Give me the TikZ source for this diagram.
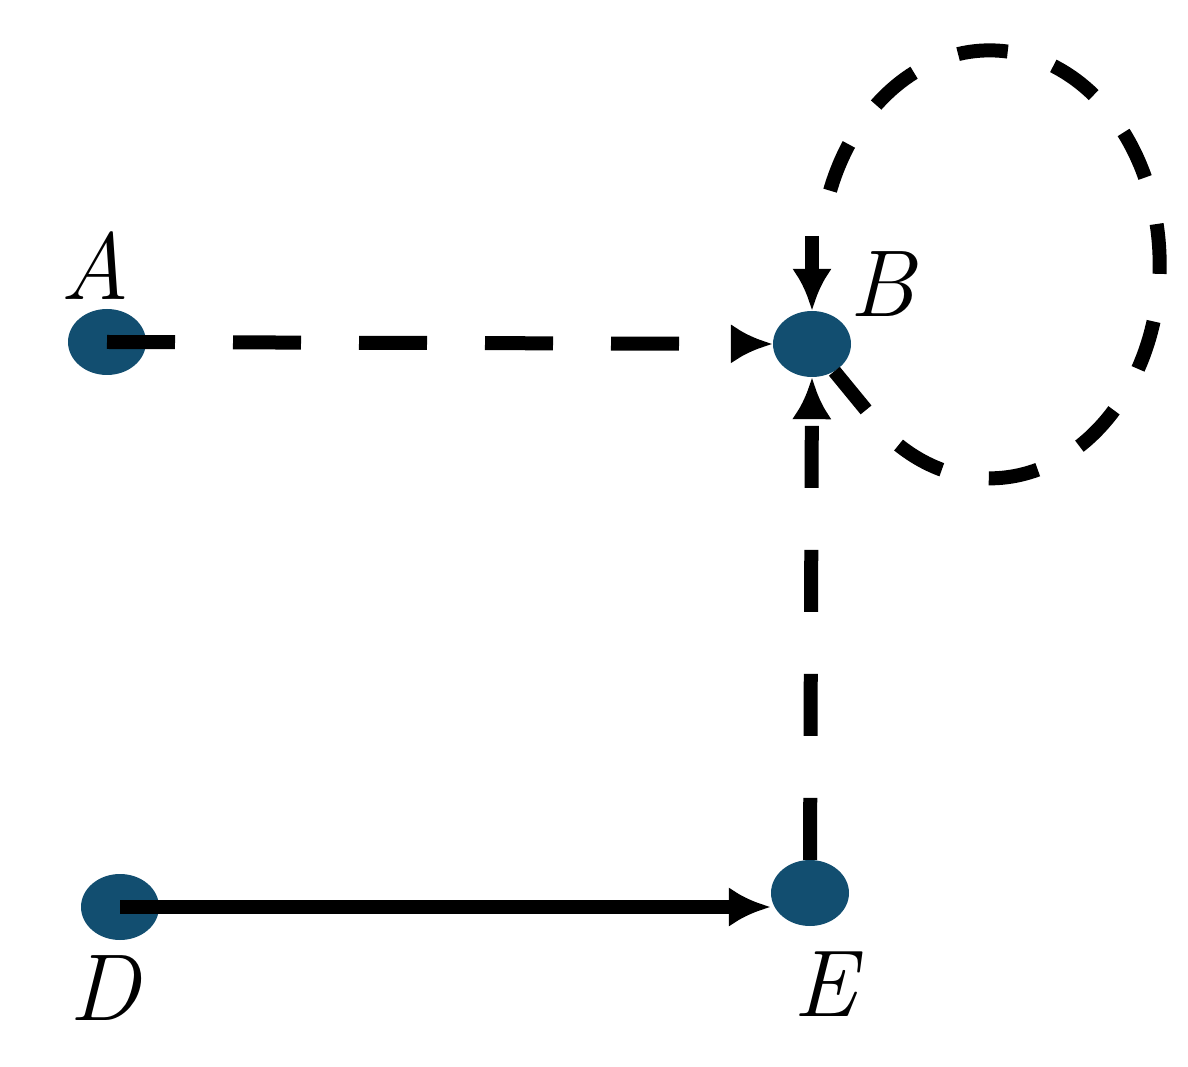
\documentclass[tikz,border=0pt]{standalone}
\usepackage{fontspec}
\usetikzlibrary{shapes.geometric,arrows.meta}
\begin{document}
\begin{tikzpicture}[x=1pt,y=1pt,
  dot/.style={ellipse,fill={rgb,255:red,18;green,78;blue,112},minimum width=78pt,minimum height=66pt,inner sep=0pt},
  lab/.style={font=\fontsize{95}{95}\selectfont\itshape},
  edge/.style={line width=14pt,-{Latex[length=42pt,width=40pt]}},
  dsh/.style={dash pattern=on 68pt off 58pt}]
\useasboundingbox (0,0) rectangle (1188,1066);
\node[dot] (A) at (107,724) {};
\node[dot] (B) at (812,722) {};
\node[dot] (D) at (120,159) {};
\node[dot] (E) at (810,173) {};
\node[lab] (LA) at (95,800) {A};
\node[lab] (LB) at (882,782) {B};
\node[lab] (LD) at (105,78) {D};
\node[lab] (LE) at (825,82) {E};
\draw[edge,dsh] (A.center) -- (B.west);
\draw[edge] (D.center) -- (D.center -| E.west);
\draw[edge,dash pattern=on 62pt off 62pt] (E.north) -- (B.south);
\coordinate (ls) at (885,633);
\coordinate (le) at (812,830);
\draw[line width=14pt,dash pattern=on 50pt off 48pt] (B) -- (ls) arc[start angle=232,end angle=520,x radius=170,y radius=214];
\draw[edge] (le) -- (B.north);
\end{tikzpicture}
\end{document}
